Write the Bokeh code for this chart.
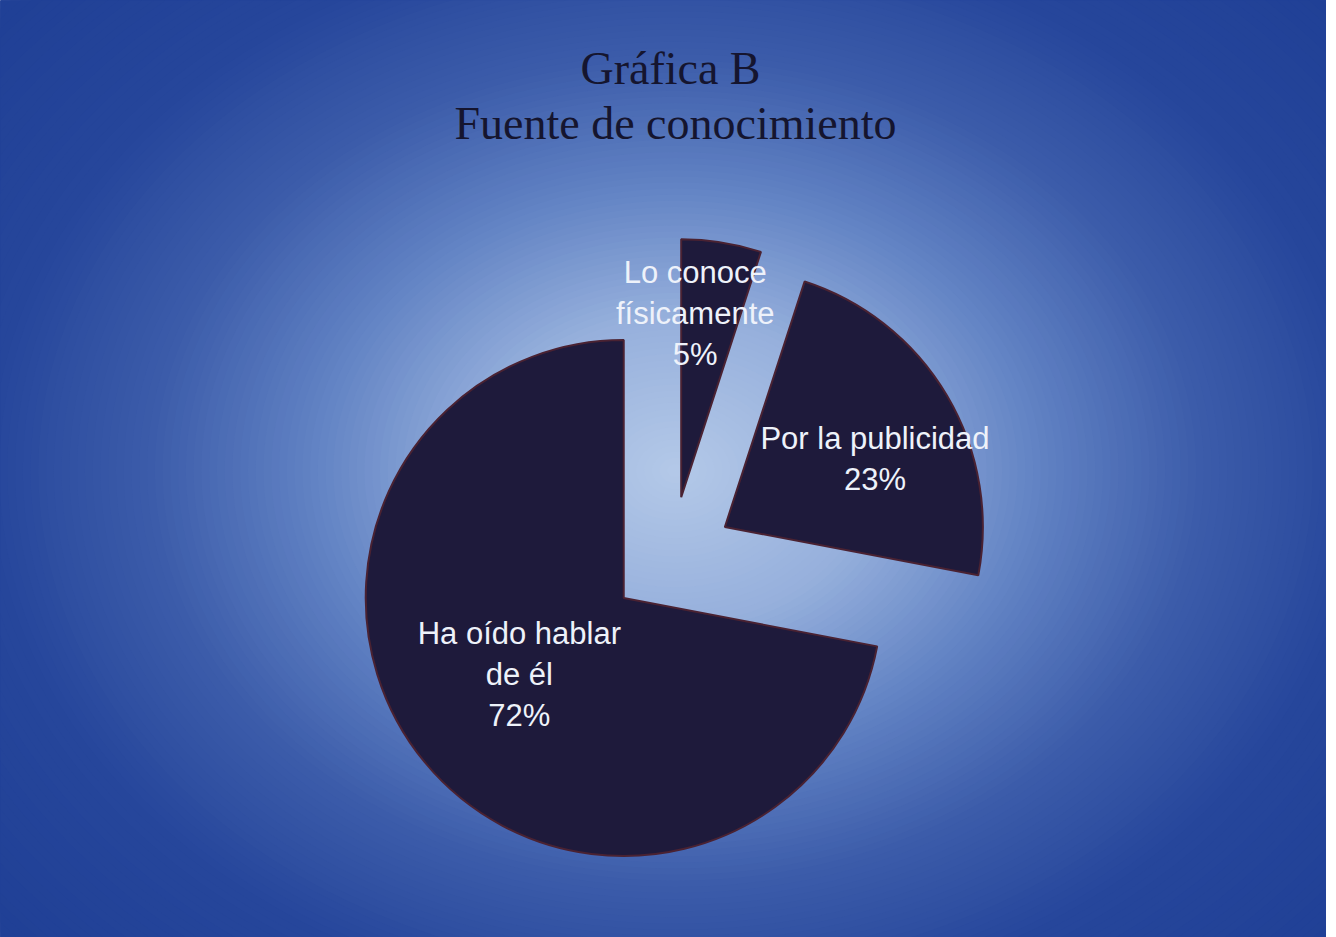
import numpy as np
from bokeh.plotting import figure
from bokeh.models import Range1d
from bokeh.core.properties import value
from bokeh.embed import file_html
from bokeh.resources import INLINE

# ---- data ----
categories = ["Lo conoce\nfísicamente", "Por la publicidad", "Ha oído hablar\nde él"]
percentages = [5, 23, 72]
title_lines = ["Gráfica B", "Fuente de conocimiento"]

# ---- layout / style ----
W, H = 1326, 937
def sy(y):  # screen y -> data y
    return H - y

cx, cy = 671, sy(558)    # pie centre
R = 258                  # radius
EXPLODE = 62             # explosion offset
label_frac = [0.72, 0.64, 0.50]
label_dx = [-15, 8, -5]
label_dy = [0, -16, 6]
slice_fill = "#1e1a3b"
slice_line = "#4a2232"

p = figure(width=W, height=H, output_backend="svg", toolbar_location=None,
           x_range=Range1d(0, W), y_range=Range1d(0, H), min_border=0)
p.axis.visible = False
p.grid.visible = False
p.outline_line_color = None
p.background_fill_color = "#1f3f95"
p.border_fill_color = "#1f3f95"

# ---- radial background glow (decoration) ----
stops_t = [0.0, 0.3, 0.55, 0.8, 1.05, 1.4]
stops_c = [(0xb4, 0xc9, 0xe8), (0x96, 0xb0, 0xdc), (0x62, 0x83, 0xc4),
           (0x3c, 0x5c, 0xaa), (0x26, 0x46, 0x9b), (0x1f, 0x3f, 0x95)]
gx, gy, grx, gry = 675, sy(470), 660, 520
ts = np.linspace(1.4, 0.0, 120)
cols = []
for t in ts:
    rgb = [int(round(np.interp(t, stops_t, [c[k] for c in stops_c]))) for k in range(3)]
    cols.append("#%02x%02x%02x" % tuple(rgb))
p.ellipse(x=[gx] * len(ts), y=[gy] * len(ts), width=list(2 * grx * ts + 1),
          height=list(2 * gry * ts + 1), fill_color=cols, line_color=None)

# ---- pie ----
total = float(sum(percentages))
starts, ends, vx, vy, lx, ly, texts = [], [], [], [], [], [], []
cum = 0.0
for i, (cat, v) in enumerate(zip(categories, percentages)):
    a0 = np.pi / 2 - 2 * np.pi * cum / total
    a1 = a0 - 2 * np.pi * v / total
    mid = (a0 + a1) / 2
    ox = cx + EXPLODE * np.cos(mid)
    oy = cy + EXPLODE * np.sin(mid)
    starts.append(a1)
    ends.append(a0)
    vx.append(ox)
    vy.append(oy)
    lx.append(ox + label_frac[i] * R * np.cos(mid) + label_dx[i])
    ly.append(oy + label_frac[i] * R * np.sin(mid) + label_dy[i])
    texts.append(f"{cat}\n{v}%")
    cum += v

p.wedge(x=vx, y=vy, radius=R, start_angle=starts, end_angle=ends,
        direction="anticlock", fill_color=slice_fill, line_color=slice_line,
        line_width=2)

p.text(x=lx, y=ly, text=texts, text_align="center", text_baseline="middle",
       text_font=value("Liberation Sans"), text_font_size="31px",
       text_line_height=1.17, text_color="#eef2fa")

# ---- title ----
p.text(x=[670, 675], y=[sy(68), sy(123)], text=title_lines, text_align="center",
       text_baseline="middle", text_font=value("Liberation Serif"),
       text_font_size="46px", text_color="#15152f")

open("out.html", "w").write(file_html(p, INLINE))
